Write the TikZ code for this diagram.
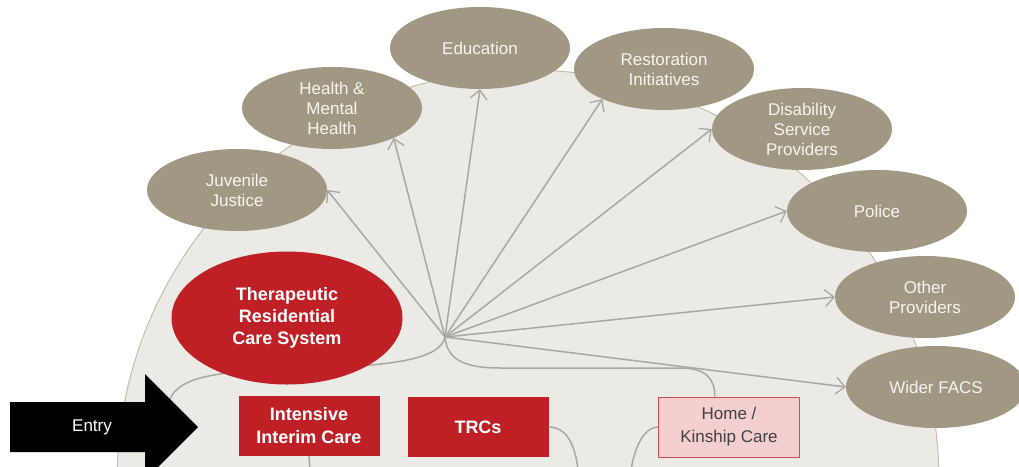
\documentclass[tikz,border=0pt]{standalone}
\usepackage{fontspec}
\setmainfont{Liberation Sans}
\usetikzlibrary{arrows.meta,shapes.geometric}
\definecolor{bgfill}{HTML}{ECEAE5}
\definecolor{bgline}{HTML}{C4BDAD}
\definecolor{stone}{HTML}{A09883}
\definecolor{stonetext}{HTML}{F7F5F0}
\definecolor{carered}{HTML}{BE2026}
\definecolor{carepink}{HTML}{F5CED0}
\definecolor{wiregrey}{HTML}{A8A8A2}
\begin{document}
\begin{tikzpicture}[x=1pt,y=-1pt,
    partner/.style={ellipse,fill=stone,text=stonetext,inner sep=0pt,
      minimum width=180pt,minimum height=82pt,align=center,
      font=\fontsize{17}{20}\selectfont},
    redbox/.style={rectangle,fill=carered,text=white,inner sep=0pt,
      minimum width=141pt,minimum height=60pt,align=center,
      font=\bfseries\fontsize{18}{23}\selectfont},
    wire/.style={draw=wiregrey,line width=1.5pt},
    link/.style={wire,-{Straight Barb[length=9pt,width=17pt,line width=1.3pt]}}]
      \useasboundingbox (0,0) rectangle (1019,466);
      \clip (0,0) rectangle (1019,466);
      \filldraw[fill=bgfill,draw=bgline,line width=1pt] (528,481) circle (411pt);

      \coordinate (H) at (445,337);
      \coordinate (ENTEND) at (168,408);
      \coordinate (IICEND) at (310,470);
      \coordinate (TRCEND) at (578,470);
      \coordinate (HKCEND) at (631,470);

      \draw[wire] (H) .. controls (440,362) and (380,366) .. (300,369)
        .. controls (220,371) and (170,375) .. (ENTEND);

      \node[partner] (JJ) at (237,190) {Juvenile\\Justice};
      \node[partner] (HMH) at (332,108) {Health \&\\Mental\\Health};
      \node[partner] (EDU) at (480,48) {Education};
      \node[partner] (RI) at (664,69) {Restoration\\Initiatives};
      \node[partner] (DSP) at (802,129) {Disability\\Service\\Providers};
      \node[partner] (POL) at (877,211) {Police};
      \node[partner] (OP) at (925,297) {Other\\Providers};
      \node[partner] (WF) at (936,387) {Wider FACS};

      \node[ellipse,fill=carered,text=white,inner sep=0pt,minimum width=231pt,
        minimum height=133pt,align=center,font=\bfseries\fontsize{18}{22}\selectfont]
        (TRCS) at (287,318) {Therapeutic\\Residential\\Care System};

      \node[redbox] (IIC) at (309,426) {Intensive\\Interim Care};
      \node[redbox] (TRC) at (478,427) {TRCs};
      \node[redbox,fill=carepink,draw=carered!80,line width=1pt,text=black!75,
        font=\fontsize{17}{23}\selectfont] (HKC) at (729,427) {Home /\\Kinship Care};

      \fill[black] (10,402) -- (145,402) -- (145,374) -- (198,427) -- (145,480)
        -- (145,452) -- (10,452) -- cycle;
      \node[text=white,font=\fontsize{17}{20}\selectfont] (ENT) at (92,427) {Entry};

      \draw[link] (H) -- (JJ.east);
      \draw[link] (H) -- (HMH.-26);
      \draw[link] (H) -- (EDU.south);
      \draw[link] (H) -- (RI.206);
      \draw[link] (H) -- (DSP.west);
      \draw[link] (H) -- (POL.west);
      \draw[link] (H) -- (OP.west);
      \draw[link] (H) -- (WF.west);

      \draw[wire] (H) .. controls (447,360) and (465,368) .. (500,368) -- (680,368)
        .. controls (705,368) and (715,378) .. (HKC.115);
      \draw[wire] (IIC.south) -- (IICEND);
      \draw[wire] (TRC.east) .. controls (565,427) and (575,442) .. (TRCEND);
      \draw[wire] (HKC.west) .. controls (645,427) and (635,445) .. (HKCEND);
    \end{tikzpicture}
\end{document}
